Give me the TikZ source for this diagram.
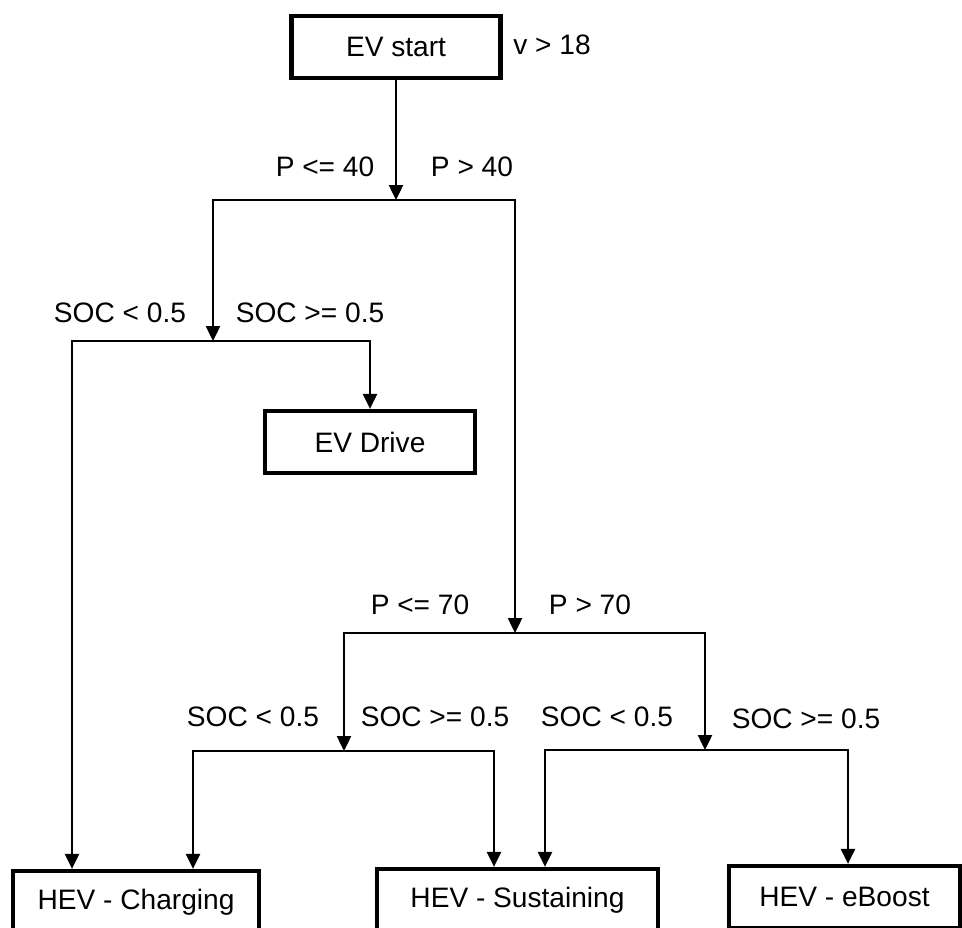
\documentclass[tikz,border=0pt]{standalone}
\usepackage{fontspec}
\setmainfont{Liberation Sans}
\usetikzlibrary{arrows.meta,positioning}

\begin{document}
\begin{tikzpicture}[
  mode/.style={draw=black,line width=2.4pt,fill=white,
               minimum height=1.24cm,inner sep=0pt,
               font=\fontsize{16}{19}\selectfont,align=center},
  cond/.style={font=\fontsize{16}{19}\selectfont,inner sep=0pt},
  arrow/.style={-{Triangle[length=0.3cm,width=0.28cm]},line width=1.4pt}]
\useasboundingbox (0,0) rectangle (19.24,-18.56);
% operating modes
\node[mode,minimum width=4.18cm](start)   at (7.92,-0.94)   {EV start};
\node[mode,minimum width=4.20cm](evdrive) at (7.40,-8.84)   {EV Drive};
\node[mode,minimum width=4.92cm](charge)  at (2.72,-18.04)  {HEV - Charging};
\node[mode,minimum width=5.62cm](sustain) at (10.35,-18.00) {HEV - Sustaining};
\node[mode,minimum width=4.62cm](boost)   at (16.89,-17.94) {HEV - eBoost};
% split points
\coordinate (s1) at (7.92,-4.00);
\coordinate (s2) at (4.26,-6.82);
\coordinate (s3) at (10.30,-12.66);
\coordinate (s4) at (6.88,-15.02);
\coordinate (s5) at (14.10,-15.00);
% conditions
\node[cond](vmin)  at (11.04,-0.90)  {v > 18};
\node[cond](plo)   at (6.50,-3.34)   {P <= 40};
\node[cond](phi)   at (9.44,-3.34)   {P > 40};
\node[cond](socl1) at (2.40,-6.26)   {SOC < 0.5};
\node[cond](soch1) at (6.20,-6.26)   {SOC >= 0.5};
\node[cond](plo2)  at (8.40,-12.10)  {P <= 70};
\node[cond](phi2)  at (11.80,-12.10) {P > 70};
\node[cond](socl2) at (5.06,-14.34)  {SOC < 0.5};
\node[cond](soch2) at (8.70,-14.34)  {SOC >= 0.5};
\node[cond](socl3) at (12.14,-14.34) {SOC < 0.5};
\node[cond](soch3) at (16.12,-14.38) {SOC >= 0.5};
% decision tree
\draw[arrow](start)--(s1);
\draw[arrow](s1)-|(s2);
\draw[arrow](s1)-|(s3);
\draw[arrow](s2)-|([xshift=-1.28cm]charge.north);
\draw[arrow](s2)-|(evdrive.north);
\draw[arrow](s3)-|(s4);
\draw[arrow](s3)-|(s5);
\draw[arrow](s4)-|([xshift=1.14cm]charge.north);
\draw[arrow](s4)-|([xshift=-0.47cm]sustain.north);
\draw[arrow](s5)-|([xshift=0.55cm]sustain.north);
\draw[arrow](s5)-|([xshift=0.07cm]boost.north);
\end{tikzpicture}
\end{document}
